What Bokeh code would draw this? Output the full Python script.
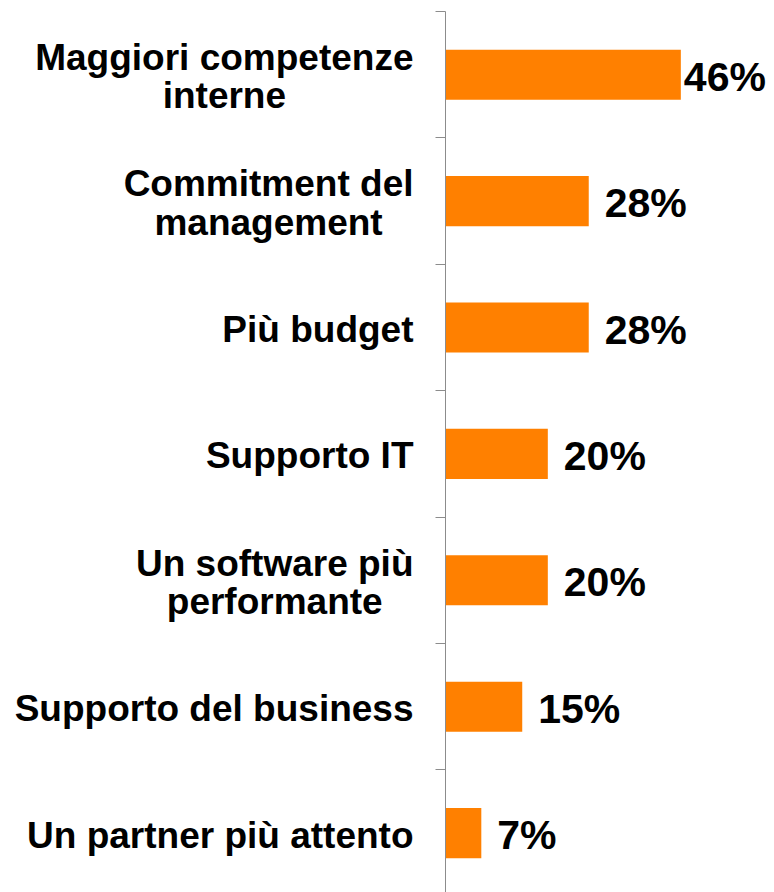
from bokeh.plotting import figure
from bokeh.models import ColumnDataSource, Range1d, FixedTicker
from bokeh.layouts import row
from bokeh.embed import file_html
from bokeh.resources import INLINE
from bokeh.core.properties import value

categories = [
    "Maggiori competenze\ninterne",
    "Commitment del\nmanagement",
    "Più budget",
    "Supporto IT",
    "Un software più\nperformante",
    "Supporto del business",
    "Un partner più attento",
]
values = [46, 28, 28, 20, 20, 15, 7]
value_labels = [f"{v}%" for v in values]

n = len(categories)
ypos = [n - 1 - i for i in range(n)]
offsets = [3 if v == max(values) else 16 for v in values]

src = ColumnDataSource(dict(cat=categories, y=ypos, v=values, lab=value_labels, off=offsets))

FONT = value("Liberation Sans")
W, H = 774, 892
TOP = 11
yr = Range1d(start=6.5 - (H - TOP) / 126.4, end=6.5)

# left: category labels
LW = 435
pl = figure(width=LW, height=H, x_range=Range1d(-LW, 0), y_range=yr,
            output_backend="svg", toolbar_location=None,
            x_axis_location=None, y_axis_location=None,
            min_border_left=0, min_border_right=0, min_border_top=TOP, min_border_bottom=0)
pl.outline_line_color = None
pl.grid.visible = False
pl.text(x=0, y="y", text="cat", source=src, x_offset=-22, y_offset=2,
        anchor="center_right", text_align="center", text_baseline="middle",
        text_font=FONT, text_font_style="bold", text_font_size="37px",
        text_line_height=0.94, text_color="black")

# right: bars
RW = W - LW
BORDER = 10
pr = figure(width=RW, height=H, x_range=Range1d(0, (RW - BORDER) / 5.116), y_range=yr,
            output_backend="svg", toolbar_location=None,
            x_axis_location=None,
            min_border_left=BORDER, min_border_right=0, min_border_top=TOP, min_border_bottom=0)
pr.outline_line_color = None
pr.grid.visible = False
ticks = [i + 0.5 for i in range(-1, n)]
ax = pr.yaxis[0]
ax.ticker = FixedTicker(ticks=ticks)
ax.major_label_overrides = {t: "" for t in ticks}
ax.major_label_standoff = 0
ax.major_tick_out = 10
ax.major_tick_in = 0
ax.minor_tick_line_color = None
ax.axis_line_color = "#8C8C8C"
ax.major_tick_line_color = "#8C8C8C"

pr.hbar(y="y", left=0, right="v", height=0.396, source=src,
        fill_color="#FF8000", line_color=None)
pr.text(x="v", y="y", text="lab", source=src, x_offset="off", y_offset=2,
        text_align="left", text_baseline="middle",
        text_font=FONT, text_font_style="bold", text_font_size="41px",
        text_color="black")

layout = row(pl, pr, spacing=0)
open("out.html", "w").write(file_html(layout, INLINE))
